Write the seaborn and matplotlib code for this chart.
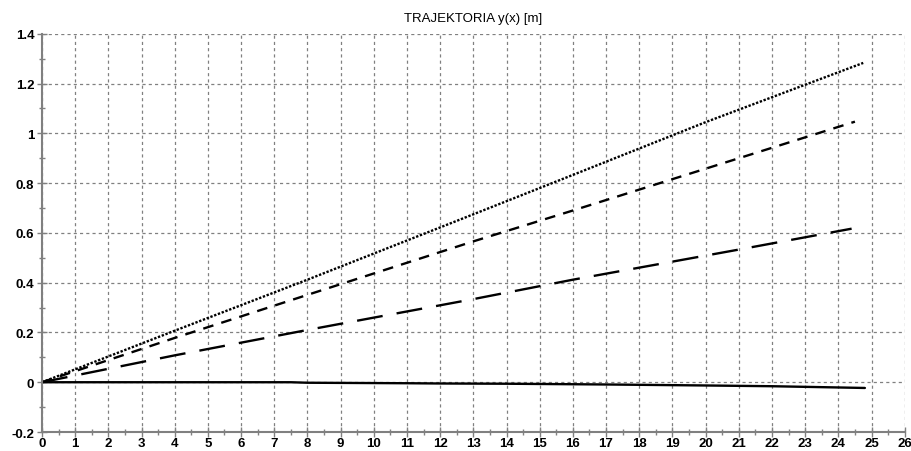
import numpy as np
import pandas as pd
import matplotlib
matplotlib.use("Agg")
import matplotlib.pyplot as plt
import seaborn as sns
from matplotlib.ticker import MultipleLocator

# trajectory samples y(x) for four cases
x_solid = [0, 4, 7.5, 8, 11, 12, 14, 17, 20, 22, 24.8]
y_solid = [0, 0.0, 0.0, -0.002, -0.004, -0.005, -0.006, -0.009, -0.013, -0.016, -0.023]

x_dot = [0, 4, 8, 12, 16, 20, 24.75]
y_dot = [0, 0.207, 0.412, 0.622, 0.833, 1.045, 1.283]

x_sdash = [0, 4, 8, 13, 16, 20, 24.5]
y_sdash = [0, 0.178, 0.351, 0.566, 0.69, 0.858, 1.047]

x_ldash = [0, 4, 8, 13, 16, 21, 24.4]
y_ldash = [0, 0.108, 0.21, 0.334, 0.412, 0.533, 0.617]

x_ticks = list(range(0, 27))
y_ticks = [-0.2, 0, 0.2, 0.4, 0.6, 0.8, 1, 1.2, 1.4]
y_tick_labels = ["-0.2", "0", "0.2", "0.4", "0.6", "0.8", "1", "1.2", "1.4"]

frames = []
for name, xs, ys in [("s0", x_solid, y_solid), ("s1", x_dot, y_dot),
                     ("s2", x_sdash, y_sdash), ("s3", x_ldash, y_ldash)]:
    frames.append(pd.DataFrame({"x": xs, "y": ys, "case": name}))
df = pd.concat(frames, ignore_index=True)

sns.set_style("white")
plt.rcParams["font.family"] = ["Liberation Sans", "DejaVu Sans"]

fig = plt.figure(figsize=(9.12, 4.52), dpi=100)
ax = fig.add_axes([0.046, 0.042, 0.946, 0.881])

dash_map = {"s0": "", "s1": (1, 0.7), "s2": (4.5, 3.5), "s3": (11, 6)}
sns.lineplot(data=df, x="x", y="y", style="case", dashes=dash_map,
             color="black", linewidth=1.7, legend=False, sort=False,
             estimator=None, ax=ax)

ax.set_xlim(0, 26)
ax.set_ylim(-0.2, 1.4)
ax.set_xticks(x_ticks)
ax.set_xticklabels([str(t) for t in x_ticks])
ax.set_yticks(y_ticks)
ax.set_yticklabels(y_tick_labels)
ax.xaxis.set_minor_locator(MultipleLocator(0.5))
ax.yaxis.set_minor_locator(MultipleLocator(0.1))

ax.grid(True, which="major", color="#808080", linestyle=(0, (2.5, 2.5)),
        linewidth=0.9)
for side in ["top", "right"]:
    ax.spines[side].set_visible(False)
for side in ["left", "bottom"]:
    ax.spines[side].set_color("#808080")
    ax.spines[side].set_linewidth(1.5)

ax.tick_params(which="major", direction="inout", length=7, width=1,
               color="#808080", labelsize=9.5, labelcolor="#000000")
ax.tick_params(which="minor", direction="inout", length=4, width=1,
               color="#808080")
ax.tick_params(axis="x", which="major", pad=0)
ax.tick_params(axis="y", which="major", pad=2)
ax.tick_params(axis="both", which="both", bottom=True, left=True)
for lbl in ax.get_xticklabels() + ax.get_yticklabels():
    lbl.set_fontweight("semibold")

ax.set_xlabel("")
ax.set_ylabel("")
ax.set_title("TRAJEKTORIA y(x) [m]", fontsize=9.5, color="#000000", pad=9)

fig.savefig("out.png", dpi=100)
